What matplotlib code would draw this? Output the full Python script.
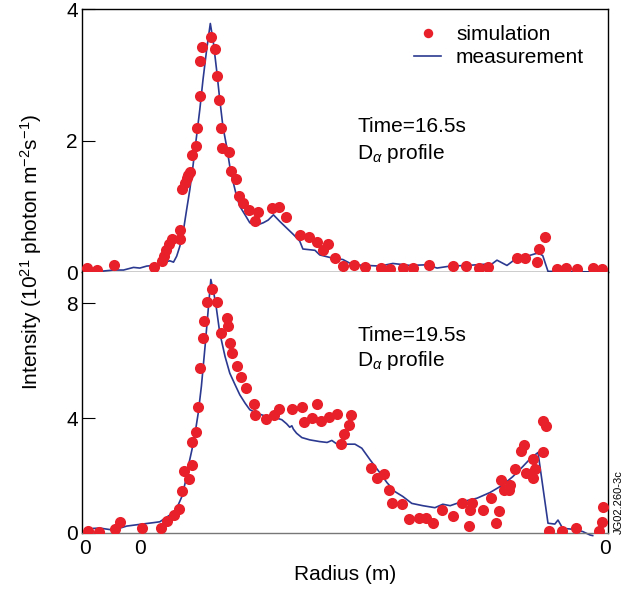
import matplotlib.pyplot as plt
import numpy as np

plt.rcParams['font.family'] = ['Liberation Sans', 'DejaVu Sans']
plt.rcParams['mathtext.fontset'] = 'custom'
plt.rcParams['mathtext.rm'] = 'Liberation Sans'
plt.rcParams['mathtext.it'] = 'Liberation Sans:italic'

RED = '#e8202a'
BLUE = '#2b3990'

# --- Time = 16.5 s (normalised radius, intensity in 1e21 photon m^-2 s^-1)
sim1_r = [0.009, 0.028, 0.060, 0.137, 0.153, 0.155, 0.159, 0.166, 0.172, 0.187, 0.187,
          0.190, 0.195, 0.199, 0.202, 0.205, 0.210, 0.216, 0.219, 0.224, 0.225, 0.229,
          0.245, 0.252, 0.256, 0.261, 0.264, 0.267, 0.279, 0.284, 0.293, 0.298, 0.306,
          0.317, 0.328, 0.335, 0.362, 0.375, 0.388, 0.414, 0.432, 0.447, 0.458, 0.468,
          0.481, 0.496, 0.517, 0.538, 0.568, 0.586, 0.610, 0.629, 0.660, 0.705, 0.730,
          0.755, 0.772, 0.827, 0.842, 0.865, 0.869, 0.880, 0.903, 0.920, 0.941, 0.971, 0.989]
sim1_v = [0.06, 0.03, 0.10, 0.08, 0.16, 0.24, 0.34, 0.42, 0.50, 0.50, 0.64,
          1.26, 1.36, 1.43, 1.48, 1.52, 1.78, 1.91, 2.19, 2.67, 3.21, 3.42,
          3.57, 3.39, 2.98, 2.62, 2.19, 1.89, 1.83, 1.54, 1.41, 1.16, 1.05,
          0.95, 0.78, 0.92, 0.98, 0.99, 0.83, 0.57, 0.53, 0.46, 0.34, 0.42,
          0.21, 0.09, 0.10, 0.07, 0.06, 0.04, 0.06, 0.06, 0.10, 0.09, 0.09,
          0.06, 0.08, 0.21, 0.21, 0.15, 0.35, 0.54, 0.05, 0.06, 0.05, 0.06, 0.05]

meas1_r = [0.003, 0.034, 0.060, 0.079, 0.098, 0.110, 0.123, 0.136, 0.148, 0.161, 0.167,
           0.174, 0.180, 0.186, 0.193, 0.199, 0.205, 0.211, 0.217, 0.224, 0.230, 0.237,
           0.244, 0.250, 0.256, 0.262, 0.268, 0.275, 0.281, 0.288, 0.294, 0.300, 0.310,
           0.319, 0.326, 0.335, 0.345, 0.354, 0.364, 0.376, 0.389, 0.402, 0.414, 0.420,
           0.443, 0.452, 0.477, 0.496, 0.515, 0.542, 0.567, 0.591, 0.624, 0.656, 0.675,
           0.700, 0.732, 0.770, 0.779, 0.789, 0.808, 0.823, 0.846, 0.867, 0.876, 0.886, 0.990]
meas1_v = [0.01, 0.01, 0.03, 0.03, 0.07, 0.06, 0.09, 0.10, 0.11, 0.16, 0.17,
           0.15, 0.24, 0.39, 0.64, 0.95, 1.25, 1.61, 2.01, 2.47, 2.92, 3.38,
           3.78, 3.48, 3.07, 2.62, 2.21, 1.91, 1.61, 1.35, 1.15, 1.00, 0.87,
           0.75, 0.72, 0.72, 0.75, 0.79, 0.87, 0.77, 0.67, 0.57, 0.47, 0.35,
           0.33, 0.26, 0.21, 0.19, 0.11, 0.10, 0.09, 0.13, 0.10, 0.11, 0.06,
           0.09, 0.10, 0.12, 0.12, 0.18, 0.10, 0.19, 0.24, 0.29, 0.25, 0.01, 0.0]

# --- Time = 19.5 s
sim2_r = [0.012, 0.033, 0.063, 0.072, 0.115, 0.150, 0.161, 0.174, 0.185, 0.190, 0.203,
          0.194, 0.210, 0.209, 0.216, 0.221, 0.224, 0.230, 0.232, 0.237, 0.247, 0.257,
          0.264, 0.275, 0.278, 0.281, 0.286, 0.295, 0.303, 0.311, 0.327, 0.328, 0.350,
          0.365, 0.375, 0.399, 0.418, 0.422, 0.437, 0.446, 0.454, 0.470, 0.485, 0.511,
          0.508, 0.499, 0.492, 0.549, 0.561, 0.574, 0.583, 0.589, 0.608, 0.622, 0.641,
          0.655, 0.667, 0.684, 0.706, 0.722, 0.738, 0.742, 0.736, 0.762, 0.778, 0.793,
          0.788, 0.797, 0.802, 0.814, 0.812, 0.824, 0.835, 0.840, 0.844, 0.858, 0.861,
          0.858, 0.876, 0.882, 0.877, 0.888, 0.912, 0.939, 0.983, 0.989, 0.990]
sim2_v = [0.07, 0.02, 0.13, 0.37, 0.16, 0.16, 0.43, 0.63, 0.82, 1.46, 1.88,
          2.16, 2.37, 3.15, 3.53, 4.39, 5.74, 6.78, 7.39, 8.05, 8.49, 8.05,
          6.96, 7.48, 7.19, 6.61, 6.26, 5.82, 5.42, 5.05, 4.49, 4.11, 3.96,
          4.11, 4.31, 4.33, 4.37, 3.86, 4.01, 4.49, 3.88, 4.05, 4.13, 4.09,
          3.74, 3.45, 3.09, 2.25, 1.93, 2.06, 1.48, 1.06, 1.00, 0.48, 0.51,
          0.53, 0.34, 0.80, 0.59, 1.03, 0.80, 1.06, 0.26, 0.80, 1.20, 0.77,
          0.36, 1.85, 1.48, 1.67, 1.48, 2.23, 2.86, 3.07, 2.10, 1.90, 2.23,
          2.59, 3.88, 3.73, 2.82, 0.07, 0.07, 0.16, 0.07, 0.39, 0.89]

meas2_r = [0.006, 0.022, 0.034, 0.060, 0.085, 0.110, 0.136, 0.148, 0.161, 0.174, 0.183,
           0.190, 0.196, 0.202, 0.209, 0.215, 0.221, 0.227, 0.234, 0.240, 0.245, 0.250,
           0.255, 0.262, 0.272, 0.281, 0.291, 0.300, 0.310, 0.319, 0.332, 0.345, 0.357,
           0.370, 0.380, 0.389, 0.395, 0.399, 0.402, 0.408, 0.418, 0.433, 0.452, 0.466,
           0.475, 0.485, 0.519, 0.532, 0.548, 0.567, 0.580, 0.595, 0.610, 0.627, 0.648,
           0.671, 0.686, 0.700, 0.719, 0.751, 0.776, 0.800, 0.819, 0.838, 0.852, 0.867,
           0.886, 0.899, 0.905, 0.914, 0.928, 0.952, 0.966, 0.971]
meas2_v = [0.10, 0.16, 0.17, 0.10, 0.24, 0.30, 0.36, 0.39, 0.55, 0.71, 0.98,
           1.27, 1.73, 2.31, 2.89, 3.47, 4.17, 5.10, 6.49, 7.77, 8.82, 8.41,
           7.89, 6.96, 6.14, 5.56, 5.16, 4.81, 4.52, 4.29, 4.17, 4.09, 4.05,
           4.00, 3.94, 3.80, 3.68, 3.73, 3.61, 3.47, 3.32, 3.24, 3.18, 3.15,
           3.22, 3.09, 3.09, 2.95, 2.54, 2.08, 1.75, 1.44, 1.27, 1.03, 0.95,
           0.88, 1.00, 0.95, 1.07, 1.21, 1.41, 1.67, 1.96, 2.31, 2.58, 2.80,
           0.34, 0.31, 0.45, 0.16, 0.14, 0.05, -0.07, -0.09]

x_tick_pos = [0.006, 0.110, 0.994]
x_tick_lab = ['0', '0', '0']

fig = plt.figure(figsize=(6.37, 5.93), dpi=100)
ax1 = fig.add_axes([0.1287, 0.5413, 0.8257, 0.4435])
ax2 = fig.add_axes([0.1287, 0.1012, 0.8257, 0.4401])

fs = 15
for ax in (ax1, ax2):
    ax.set_xlim(0, 1)
    ax.tick_params(axis='y', direction='in', length=9, width=0.8, labelsize=fs, pad=3)
    for s in ax.spines.values():
        s.set_linewidth(1.0)

ax1.plot(meas1_r, meas1_v, color=BLUE, lw=1.2, label='measurement', zorder=2)
ax1.plot(sim1_r, sim1_v, 'o', color=RED, ms=8, mec='none', label='simulation', zorder=3)
ax1.set_ylim(0, 4)
ax1.set_yticks([0, 2, 4])
ax1.set_xticks([])

ax2.plot(meas2_r, meas2_v, color=BLUE, lw=1.2, zorder=2, clip_on=False)
ax2.plot(sim2_r, sim2_v, 'o', color=RED, ms=8, mec='none', zorder=3)
ax2.set_ylim(0, 9.08)
ax2.set_yticks([0, 4, 8])
ax2.set_xticks(x_tick_pos)
ax2.set_xticklabels(x_tick_lab)
ax2.tick_params(axis='x', length=0, labelsize=fs, pad=4)
ax2.spines['top'].set_visible(False)
ax2.spines['bottom'].set_color('#777777')

h, l = ax1.get_legend_handles_labels()
ax1.legend(h[::-1], l[::-1], loc='upper left', bbox_to_anchor=(0.632, 0.94),
           frameon=False, fontsize=fs, handlelength=1.3, handletextpad=0.7,
           labelspacing=0.22, borderpad=0, borderaxespad=0, numpoints=1,
           markerscale=0.85)

ax1.text(0.523, 0.555, 'Time=16.5s', transform=ax1.transAxes, fontsize=fs, va='center')
ax1.text(0.523, 0.452, r'D$_{\alpha}$ profile', transform=ax1.transAxes, fontsize=fs, va='center')
ax2.text(0.523, 0.755, 'Time=19.5s', transform=ax2.transAxes, fontsize=fs, va='center')
ax2.text(0.523, 0.660, r'D$_{\alpha}$ profile', transform=ax2.transAxes, fontsize=fs, va='center')

fig.text(31 / 637, 1 - 252 / 593, r'Intensity (10$^{21}$ photon m$^{-2}$s$^{-1}$)',
         rotation=90, fontsize=fs, ha='center', va='center')
fig.text(345 / 637, 1 - 575 / 593, 'Radius (m)', fontsize=fs, ha='center', va='center')
fig.text(619 / 637, 1 - 502 / 593, 'JG02.260-3c', rotation=90, fontsize=8,
         ha='center', va='center')

fig.savefig('out.png', dpi=100)
